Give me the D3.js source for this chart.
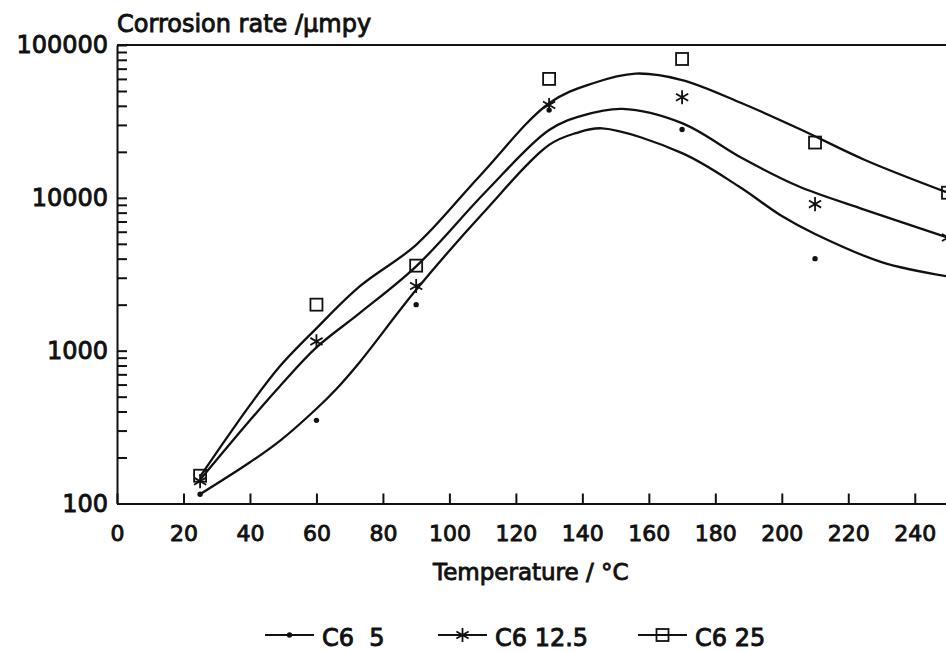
<!DOCTYPE html>
<html>
<head>
<meta charset="utf-8">
<script src="https://cdn.jsdelivr.net/npm/d3@7"></script>
<style>
body { margin: 0; background: #fff; }
text { font-family: "DejaVu Sans", sans-serif; fill: #111; }
</style>
</head>
<body>
<div id="plot"></div>
<script>
// measured points
var temps = [25, 60, 90, 130, 170, 210, 250]
var c6_5 = [115, 350, 2000, 37500, 28000, 4000, null]
var c6_12_5 = [140, 1150, 2650, 40500, 45500, 9100, 5500]
var c6_25 = [152, 2000, 3600, 60000, 81000, 23000, 10800]

// fitted curves drawn through the data
var fitTemps5 = [25, 40, 49, 60, 66, 73, 90, 110, 130, 138, 146, 170, 187, 200, 210, 230, 250]
var fit5 = [115, 186, 257, 417, 562, 841, 2500, 7900, 22200, 26500, 28500, 19600, 11900, 7600, 5800, 3800, 3060]
var fitTemps12_5 = [25, 40, 49, 60, 73, 90, 111, 130, 140, 152, 170, 188, 205, 225, 250]
var fit12_5 = [143, 350, 585, 1050, 1760, 3560, 11000, 27800, 34500, 38200, 30800, 18200, 11900, 8350, 5480]
var fitTemps25 = [25, 40, 49, 60, 73, 90, 109, 130, 143, 156, 170, 188, 206, 225, 250]
var fit25 = [150, 440, 790, 1400, 2630, 4930, 13800, 41600, 56000, 65000, 59000, 41600, 27800, 17700, 10800]

// axis ticks
var xTicks = [0, 20, 40, 60, 80, 100, 120, 140, 160, 180, 200, 220, 240]
var yLabels = [100, 1000, 10000, 100000]

var series = [
    {name: "C6  5", marker: "dot", values: c6_5, fitT: fitTemps5, fit: fit5},
    {name: "C6 12.5", marker: "star", values: c6_12_5, fitT: fitTemps12_5, fit: fit12_5},
    {name: "C6 25", marker: "square", values: c6_25, fitT: fitTemps25, fit: fit25}
]

var width = 946
var height = 652
var margin = {top: 45, left: 117, bottom: 148}

var svg = d3.select("#plot").append("svg")
    .attr("width", width)
    .attr("height", height)

var x = d3.scaleLinear().domain([0, 250]).range([margin.left, margin.left + 831])
var y = d3.scaleLog().domain([100, 100000]).range([height - margin.bottom - 0.5, margin.top])

// minor + major log ticks
var yTicks = []
for (var p = 100; p < 100000; p *= 10)
    for (var k = 1; k < 10; k++) yTicks.push(p * k)
yTicks.push(100000)

var gy = svg.append("g")
    .attr("transform", "translate(" + x(0) + ",0)")
    .call(d3.axisLeft(y)
        .tickValues(yTicks)
        .tickSizeInner(-10)
        .tickSizeOuter(0)
        .tickPadding(9)
        .tickFormat(function (d) { return yLabels.indexOf(d) >= 0 ? String(d) : "" }))
gy.selectAll("text").style("font-size", "24px").attr("stroke", "#111").attr("stroke-width", 0.9)

var gx = svg.append("g")
    .attr("transform", "translate(0," + y(100) + ")")
    .call(d3.axisBottom(x)
        .tickValues(xTicks)
        .tickSizeInner(-10)
        .tickSizeOuter(0)
        .tickPadding(22)
        .tickFormat(d3.format("d")))
gx.selectAll("text").style("font-size", "22px").attr("stroke", "#111").attr("stroke-width", 0.9)

svg.selectAll(".domain, .tick line").attr("stroke", "#111").attr("stroke-width", 2)

// top frame line
svg.append("line")
    .attr("x1", x(0)).attr("x2", x(250))
    .attr("y1", y(100000)).attr("y2", y(100000))
    .attr("stroke", "#111").attr("stroke-width", 2)

// titles
svg.append("text")
    .attr("x", x(0))
    .attr("y", 32)
    .style("font-size", "24px")
    .attr("stroke", "#111").attr("stroke-width", 0.9)
    .text("Corrosion rate /µmpy")

svg.append("text")
    .attr("x", x(124.5))
    .attr("y", 580)
    .attr("text-anchor", "middle")
    .style("font-size", "23px")
    .attr("stroke", "#111").attr("stroke-width", 0.9)
    .text("Temperature / °C")

var line = d3.line()
    .x(function (d) { return x(d[0]) })
    .y(function (d) { return y(d[1]) })
    .curve(d3.curveCatmullRom.alpha(0.5))

// fitted curves
series.forEach(function (s) {
    svg.append("path")
        .datum(s.fitT.map(function (t, i) { return [t, s.fit[i]] }))
        .attr("d", line)
        .attr("fill", "none")
        .attr("stroke", "#111")
        .attr("stroke-width", 2.3)
})

function drawMarker(g, type) {
    if (type == "dot")
        g.append("circle").attr("r", 2.7).attr("fill", "#111")
    else if (type == "star")
        g.append("path")
            .attr("d", d3.symbol().type(d3.symbolAsterisk).size(140)())
            .attr("fill", "none").attr("stroke", "#111").attr("stroke-width", 1.8)
    else
        g.append("rect")
            .attr("x", -6).attr("y", -6).attr("width", 12).attr("height", 12)
            .attr("fill", "none").attr("stroke", "#111").attr("stroke-width", 1.8)
}

// data markers
series.forEach(function (s) {
    temps.forEach(function (t, i) {
        var v = s.values[i]
        if (v == null) return
        var g = svg.append("g").attr("transform", "translate(" + x(t) + "," + y(v) + ")")
        drawMarker(g, s.marker)
    })
})

// legend
var legendX = [265, 438, 638]
series.forEach(function (s, i) {
    var g = svg.append("g").attr("transform", "translate(" + legendX[i] + ",635)")
    g.append("line").attr("x1", 0).attr("x2", 49)
        .attr("stroke", "#111").attr("stroke-width", 2)
    var m = g.append("g").attr("transform", "translate(24.5,0)")
    drawMarker(m, s.marker)
    g.append("text")
        .attr("x", 57)
        .attr("y", 11)
        .attr("xml:space", "preserve")
        .style("white-space", "pre")
        .style("font-size", "24px")
        .attr("stroke", "#111").attr("stroke-width", 0.9)
        .text(s.name)
})
</script>
</body>
</html>
